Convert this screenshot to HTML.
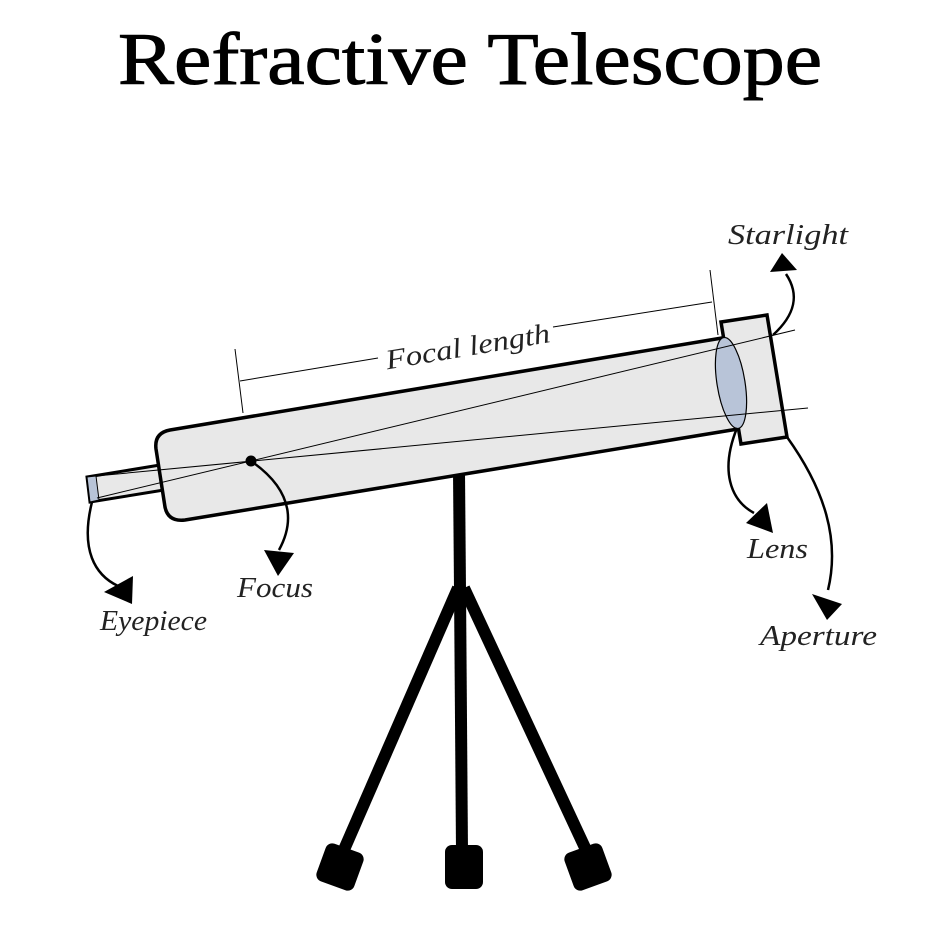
<!DOCTYPE html>
<html><head><meta charset="utf-8"><style>html,body{margin:0;padding:0;background:#fff}svg{display:block}</style></head>
<body>
<svg width="940" height="940" viewBox="0 0 940 940" xmlns="http://www.w3.org/2000/svg">
<text x="118" y="84" textLength="704" lengthAdjust="spacingAndGlyphs" font-family="Liberation Serif, serif" font-size="74" fill="#000" stroke="#000" stroke-width="1">Refractive Telescope</text>

<!-- tripod -->
<line x1="459" y1="472" x2="460" y2="590" stroke="#000" stroke-width="12"/>
<line x1="460" y1="588" x2="462" y2="852" stroke="#000" stroke-width="12"/>
<line x1="458" y1="588" x2="343" y2="852" stroke="#000" stroke-width="12"/>
<line x1="464" y1="588" x2="587" y2="852" stroke="#000" stroke-width="12"/>
<rect x="-20" y="-20" width="40" height="40" rx="7" fill="#000" transform="translate(340,867) rotate(20)"/>
<rect x="-19" y="-22" width="38" height="44" rx="7" fill="#000" transform="translate(464,867)"/>
<rect x="-20" y="-20" width="40" height="40" rx="7" fill="#000" transform="translate(588,867) rotate(-20)"/>

<!-- eyepiece -->
<path d="M87,477 L160,465 L164,490 L90,502 Z" fill="#e8e8e8" stroke="#000" stroke-width="3"/>
<path d="M87,477 L96,476 L99,500 L90,502 Z" fill="#b8c4d8" stroke="#000" stroke-width="1"/>

<!-- tube -->
<path d="M170,430 L722,338 L738,429 L185,520 Q168,522 165,507 L156,449 Q154,433 170,430 Z" fill="#e8e8e8" stroke="#000" stroke-width="3.5" stroke-linejoin="round"/>

<!-- aperture cap -->
<path d="M721,322 L767,315 L787,437 L741,444 Z" fill="#e8e8e8" stroke="#000" stroke-width="3.5"/>
<ellipse cx="731" cy="383" rx="14" ry="46" transform="rotate(-9 731 383)" fill="#b8c4d8" stroke="#000" stroke-width="1.2"/>

<!-- rays -->
<line x1="795" y1="330" x2="97" y2="498" stroke="#000" stroke-width="1"/>
<line x1="808" y1="408" x2="96" y2="476" stroke="#000" stroke-width="1"/>
<circle cx="251" cy="461" r="5.5" fill="#000"/>

<!-- focal length dimension -->
<line x1="235" y1="349" x2="243" y2="413" stroke="#000" stroke-width="1"/>
<line x1="710" y1="270" x2="718" y2="335" stroke="#000" stroke-width="1"/>
<line x1="240" y1="381" x2="378" y2="358" stroke="#000" stroke-width="1"/>
<line x1="553" y1="327" x2="712" y2="302" stroke="#000" stroke-width="1"/>
<text x="384" y="356" textLength="166" lengthAdjust="spacingAndGlyphs" font-family="Liberation Serif, serif" font-style="italic" font-size="28" fill="#222" transform="rotate(-9.5 466 342)">Focal length</text>

<!-- connectors -->
<g fill="none" stroke="#000" stroke-width="2.5">
<path d="M92,502 C80,550 95,575 118,586"/>
<path d="M251,461 C300,495 290,530 279,550"/>
<path d="M737,428 C720,470 730,500 754,513"/>
<path d="M773,335 C795,315 800,295 786,274"/>
<path d="M787,437 C825,490 840,540 828,590"/>
</g>
<g fill="#000">
<polygon points="104,592 133,576 132,604"/>
<polygon points="264,550 294,553 278,576"/>
<polygon points="746,523 767,503 773,533"/>
<polygon points="770,272 797,270 782,253"/>
<polygon points="812,594 842,604 827,620"/>
</g>

<g font-family="Liberation Serif, serif" font-style="italic" font-size="28" fill="#222" lengthAdjust="spacingAndGlyphs">
<text x="728" y="244" textLength="120" lengthAdjust="spacingAndGlyphs">Starlight</text>
<text x="747" y="558" textLength="61" lengthAdjust="spacingAndGlyphs">Lens</text>
<text x="760" y="645" textLength="117" lengthAdjust="spacingAndGlyphs">Aperture</text>
<text x="237" y="597" textLength="76" lengthAdjust="spacingAndGlyphs">Focus</text>
<text x="100" y="630" textLength="107" lengthAdjust="spacingAndGlyphs">Eyepiece</text>
</g>
</svg>
</body></html>
